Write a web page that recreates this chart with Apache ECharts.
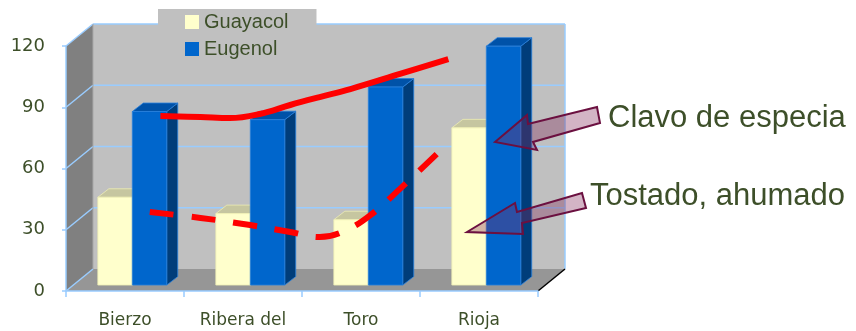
<!DOCTYPE html>
<html>
<head>
<meta charset="utf-8">
<script src="https://cdn.jsdelivr.net/npm/echarts@6/dist/echarts.min.js"></script>
<style>
  html, body { margin: 0; padding: 0; background: #ffffff; }
  #chart { width: 856px; height: 331px; }
</style>
</head>
<body>
<div id="chart"></div>
<script>
// Wine regions and measured compounds
const categories = ['Bierzo', 'Ribera del', 'Toro', 'Rioja'];
const guayacol = [43, 35, 32, 77];
const eugenol = [85, 81, 97, 117];
const yTicks = [0, 30, 60, 90, 120];

// Trend curves; x in category units (0 = left edge of Bierzo, 4 = right edge of Rioja)
const clavoCurve = [
  [0.80, 85.7], [1.14, 85.2], [1.39, 84.7], [1.64, 86.7], [1.90, 91.1],
  [2.15, 95.0], [2.41, 98.9], [2.83, 106.3], [3.24, 113.6]
];
const tostadoCurve = [
  [0.71, 38.7], [1.14, 35.8], [1.56, 32.3], [1.90, 28.9], [2.15, 26.4],
  [2.36, 29.4], [2.58, 37.2], [2.83, 50.0], [3.17, 68.6]
];

const TEXT = '#3d4f29';
const AXIS = '#99ccff';
// depth of the 3D box (pixels) and where bars sit inside it
const DEPTH_X = 27, DEPTH_Y = -22;
const BAR_POS = 0.27;
const BAR_DX = 11, BAR_DY = -8.5;
const BAR_FRAC = 0.292;

function renderFrame(params, api) {
  const cs = params.coordSys;
  const x0 = cs.x, x1 = cs.x + cs.width;
  const yt = cs.y, yb = cs.y + cs.height;
  const dx = DEPTH_X, dy = DEPTH_Y;
  const children = [
    { type: 'polygon', shape: { points: [[x0 + dx, yt + dy], [x1 + dx, yt + dy], [x1 + dx, yb + dy], [x0 + dx, yb + dy]] },
      style: { fill: '#c0c0c0' } },
    { type: 'polygon', shape: { points: [[x0, yt], [x0 + dx, yt + dy], [x0 + dx, yb + dy], [x0, yb]] },
      style: { fill: '#808080' } },
    { type: 'polygon', shape: { points: [[x0, yb], [x0 + dx, yb + dy], [x1 + dx, yb + dy], [x1, yb]] },
      style: { fill: '#969696' } }
  ];
  yTicks.forEach(function (v) {
    const y = api.coord([0, v])[1];
    if (v > 0) {
      children.push({ type: 'line', shape: { x1: x0 + dx, y1: y + dy, x2: x1 + dx, y2: y + dy },
        style: { stroke: AXIS, lineWidth: 1.5 } });
    }
    children.push({ type: 'line', shape: { x1: x0, y1: y, x2: x0 + dx, y2: y + dy },
      style: { stroke: AXIS, lineWidth: 1.5 } });
  });
  // back wall right edge and floor's right edge
  children.push({ type: 'line', shape: { x1: x1 + dx, y1: yt + dy, x2: x1 + dx, y2: yb + dy },
    style: { stroke: AXIS, lineWidth: 1.5 } });
  children.push({ type: 'line', shape: { x1: x0 + dx, y1: yt + dy, x2: x0 + dx, y2: yb + dy },
    style: { stroke: '#a8a8a8', lineWidth: 1 } });
  children.push({ type: 'line', shape: { x1: x1, y1: yb, x2: x1 + dx, y2: yb + dy },
    style: { stroke: '#000000', lineWidth: 1.5 } });
  return { type: 'group', children: children };
}

function barRenderer(slot, colors) {
  return function (params, api) {
    const cat = api.value(0), val = api.value(1);
    const base = api.coord([cat, 0]);
    const top = api.coord([cat, val]);
    const w = api.size([1, 0])[0] * BAR_FRAC;
    const fx = DEPTH_X * BAR_POS, fy = DEPTH_Y * BAR_POS;
    const left = base[0] + fx - w + slot * w;
    const right = left + w;
    const yT = top[1] + fy, yB = base[1] + fy;
    return {
      type: 'group',
      children: [
        { type: 'polygon', shape: { points: [[right, yT], [right + BAR_DX, yT + BAR_DY], [right + BAR_DX, yB + BAR_DY], [right, yB]] },
          style: { fill: colors.side, stroke: colors.edge, lineWidth: 0.8 } },
        { type: 'polygon', shape: { points: [[left, yT], [left + BAR_DX, yT + BAR_DY], [right + BAR_DX, yT + BAR_DY], [right, yT]] },
          style: { fill: colors.top, stroke: colors.edge, lineWidth: 0.8 } },
        { type: 'rect', shape: { x: left, y: yT, width: w, height: yB - yT },
          style: { fill: colors.front, stroke: colors.edge, lineWidth: 0.8 } }
      ]
    };
  };
}

const guayacolColors = { front: '#ffffcc', top: '#c6c6a0', side: '#d8d8a8', edge: '#eeeeb4' };
const eugenolColors = { front: '#0066cc', top: '#0052a8', side: '#003d7a', edge: '#2a80da' };

const chart = echarts.init(document.getElementById('chart'), null, { renderer: 'canvas' });

chart.setOption({
  animation: false,
  backgroundColor: '#ffffff',
  grid: { left: 66, top: 46, width: 472, height: 245, containLabel: false },
  legend: {
    orient: 'vertical',
    left: 158, top: 9,
    padding: [3, 28, 4, 27],
    backgroundColor: '#c0c0c0',
    icon: 'rect',
    itemWidth: 14, itemHeight: 14, itemGap: 7,
    textStyle: { fontFamily: 'Liberation Sans', fontSize: 20, color: TEXT },
    data: ['Guayacol', 'Eugenol']
  },
  xAxis: [
    {
      type: 'category',
      data: categories,
      boundaryGap: true,
      z: 6,
      axisLine: { lineStyle: { color: AXIS, width: 1.5 } },
      axisTick: { show: true, length: 6, lineStyle: { color: AXIS, width: 1.5 } },
      axisLabel: { margin: 21, fontFamily: 'DejaVu Sans', fontSize: 17, color: TEXT }
    },
    { type: 'value', min: 0, max: 4, show: false }
  ],
  yAxis: {
    type: 'value',
    min: 0, max: 120, interval: 30,
    z: 6,
    axisLine: { show: true, lineStyle: { color: AXIS, width: 1.5 } },
    axisTick: { show: true, length: 4, lineStyle: { color: AXIS, width: 1.5 } },
    splitLine: { show: false },
    axisLabel: { margin: 21, fontFamily: 'DejaVu Sans', fontSize: 18, color: TEXT }
  },
  series: [
    {
      type: 'custom', name: 'frame', z: 1, silent: true, clip: false,
      renderItem: renderFrame,
      data: [[0, 0]]
    },
    {
      type: 'custom', name: 'Guayacol', z: 2, clip: false,
      itemStyle: { color: guayacolColors.front },
      renderItem: barRenderer(0, guayacolColors),
      data: guayacol.map(function (v, i) { return [i, v]; })
    },
    {
      type: 'custom', name: 'Eugenol', z: 2, clip: false,
      itemStyle: { color: eugenolColors.front },
      renderItem: barRenderer(1, eugenolColors),
      data: eugenol.map(function (v, i) { return [i, v]; })
    },
    {
      type: 'line', name: 'clavo', xAxisIndex: 1, z: 4,
      smooth: 0.4, symbol: 'none',
      lineStyle: { color: '#ff0000', width: 6 },
      data: clavoCurve
    },
    {
      type: 'line', name: 'tostado', xAxisIndex: 1, z: 4,
      smooth: 0.4, symbol: 'none',
      lineStyle: { color: '#ff0000', width: 6, type: [24, 18] },
      data: tostadoCurve
    }
  ],
  graphic: [
    {
      type: 'polygon', z: 20,
      shape: { points: [[495, 142], [527, 115], [528, 124], [597, 107], [600, 123], [533, 142], [537, 150]] },
      style: { fill: 'rgba(128,40,90,0.35)', stroke: '#6b1040', lineWidth: 2 }
    },
    {
      type: 'polygon', z: 20,
      shape: { points: [[467, 232], [515, 203], [517, 212], [582, 193], [586, 208], [522, 223], [523, 234]] },
      style: { fill: 'rgba(128,40,90,0.35)', stroke: '#6b1040', lineWidth: 2 }
    },
    {
      type: 'text', z: 20, left: 608, top: 103,
      style: { text: 'Clavo de especia', fill: TEXT, font: '31px "Liberation Sans"' }
    },
    {
      type: 'text', z: 20, left: 590, top: 181,
      style: { text: 'Tostado, ahumado', fill: TEXT, font: '31px "Liberation Sans"' }
    }
  ]
});
</script>
</body>
</html>
